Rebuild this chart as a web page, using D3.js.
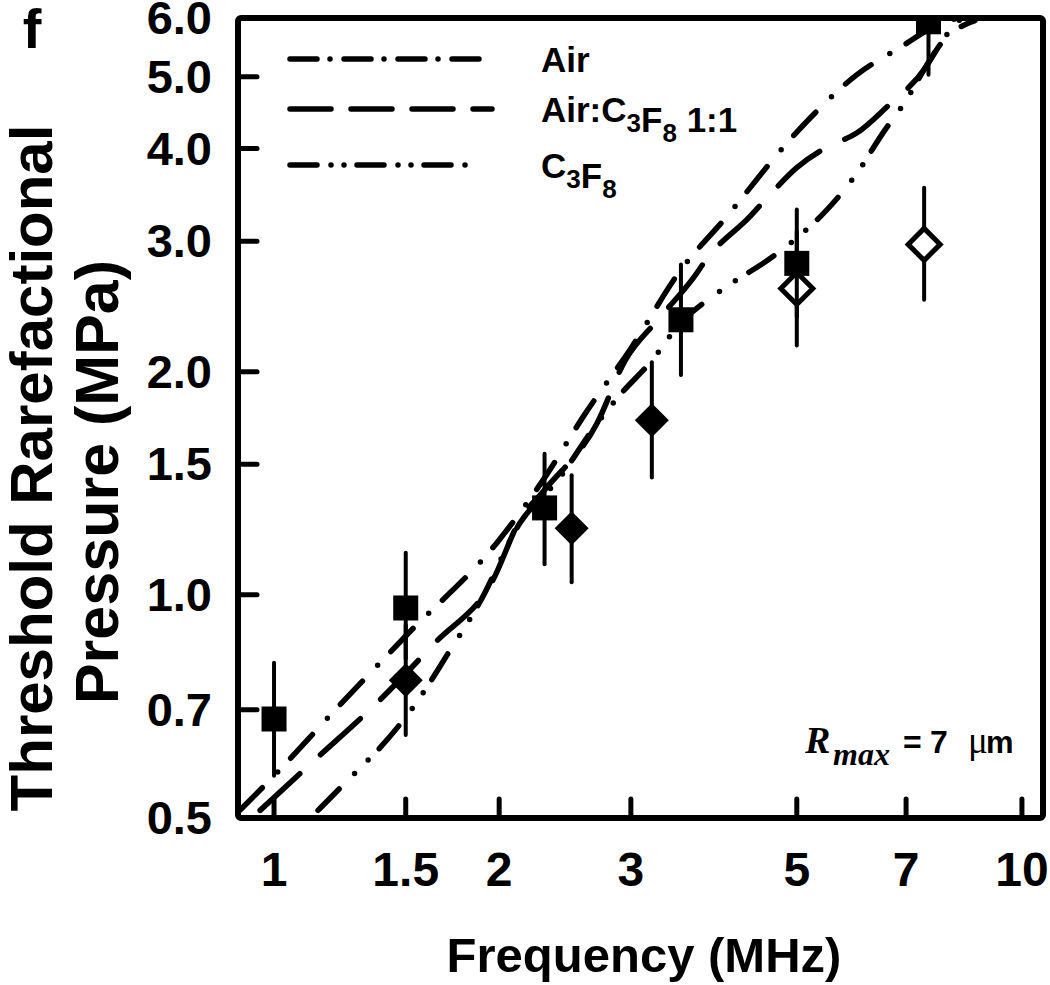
<!DOCTYPE html>
<html>
<head>
<meta charset="utf-8">
<script src="https://cdn.jsdelivr.net/npm/d3@7"></script>
<style>
  body { margin: 0; background: #fff; }
  text { font-family: "Liberation Sans", Arial, sans-serif; font-weight: bold; fill: #000; }
</style>
</head>
<body>
<div id="chart"></div>
<script>
(function(){
    const width = 1050;
    const height = 985;

    // Tick values
    const freqTicks = [1, 1.5, 2, 3, 5, 7, 10];
    const pressTicks = [0.5, 0.7, 1.0, 1.5, 2.0, 3.0, 4.0, 5.0, 6.0];

    // Model curves
    const airFreq = [0.9, 1.0, 1.2, 1.5, 2.0, 2.3, 2.6, 3.0, 3.5, 4.0, 5.0, 6.0, 7.0, 7.5, 8.2];
    const airP    = [0.512, 0.57, 0.695, 0.88, 1.186, 1.438, 1.749, 2.15, 2.745, 3.21, 4.21, 5.02, 5.54, 5.79, 6.0];

    const mixFreq = [0.958, 1.134, 1.373, 1.642, 1.963, 2.132, 2.3, 2.7, 2.947, 3.26, 3.63, 3.8, 4.33, 4.56, 5.0, 5.49, 6.02, 6.58, 7.43, 7.77, 8.65];
    const mixP    = [0.512, 0.599, 0.715, 0.862, 1.048, 1.262, 1.385, 1.70, 2.07, 2.35, 2.67, 2.85, 3.24, 3.43, 3.77, 4.02, 4.20, 4.54, 5.14, 5.52, 5.95];

    const c3f8Freq = [1.145, 1.283, 1.386, 1.582, 1.704, 1.885, 2.132, 2.398, 2.7, 2.9, 3.2, 3.5, 3.74, 4.11, 4.6, 5.0, 5.49, 6.0, 6.5, 7.0, 7.5, 8.0, 8.3];
    const c3f8P    = [0.512, 0.575, 0.622, 0.737, 0.83, 0.978, 1.25, 1.43, 1.70, 1.86, 2.07, 2.33, 2.47, 2.64, 2.84, 3.03, 3.31, 3.69, 4.18, 4.65, 5.23, 5.76, 6.0];

    // Measured points with error bars
    const squareFreq = [1.0, 1.5, 2.3, 3.5, 5.0, 7.5];
    const squareP    = [0.68, 0.96, 1.31, 2.35, 2.80, 5.93];
    const squareLo   = [0.57, 0.82, 1.10, 1.98, 2.37, 5.03];
    const squareHi   = [0.81, 1.14, 1.55, 2.79, 3.31, 7.0];

    const diamondFreq = [1.5, 2.5, 3.2];
    const diamondP    = [0.767, 1.23, 1.72];
    const diamondLo   = [0.647, 1.04, 1.44];
    const diamondHi   = [0.91, 1.45, 2.06];

    const openFreq = [5.0, 7.4];
    const openP    = [2.59, 2.97];
    const openLo   = [2.17, 2.50];
    const openHi   = [3.09, 3.54];

    const legendLabels = ["Air", "Air:C3F8 1:1", "C3F8"];

    const left = 238, right = 1043, top = 18, bottom = 818;

    const svg = d3.select("#chart")
        .append("svg")
        .attr("width", width)
        .attr("height", height);

    const x = d3.scaleLog().domain([0.895, 10.67]).range([left, right]);
    const y = d3.scaleLog().domain([0.5, 6]).range([bottom, top]);

    svg.append("clipPath").attr("id", "plotclip")
        .append("rect")
        .attr("x", left).attr("y", top)
        .attr("width", right - left).attr("height", bottom - top);

    const plot = svg.append("g").attr("clip-path", "url(#plotclip)");

    // Curves
    const line = d3.line()
        .x(d => x(d[0]))
        .y(d => y(d[1]))
        .curve(d3.curveMonotoneX);

    const curves = [
        { f: airFreq, p: airP, dash: "32,22,0,19" },
        { f: mixFreq, p: mixP, dash: "54,28" },
        { f: c3f8Freq, p: c3f8P, dash: "30,22,0,19,0,16" }
    ];

    curves.forEach(c => {
        plot.append("path")
            .datum(c.f.map((f, i) => [f, c.p[i]]))
            .attr("d", line)
            .attr("fill", "none")
            .attr("stroke", "#000")
            .attr("stroke-width", 5.5)
            .attr("stroke-linecap", "round")
            .attr("stroke-dasharray", c.dash);
    });

    function errorBars(fs, lo, hi) {
        plot.selectAll(null)
            .data(fs)
            .enter()
            .append("line")
            .attr("x1", d => x(d)).attr("x2", d => x(d))
            .attr("y1", (d, i) => y(lo[i]))
            .attr("y2", (d, i) => y(hi[i]))
            .attr("stroke", "#000")
            .attr("stroke-width", 4)
            .attr("stroke-linecap", "round");
    }

    const diamondPath = r => `M0,${-r}L${r},0L0,${r}L${-r},0Z`;

    // open diamonds
    errorBars(openFreq, openLo, openHi);
    plot.selectAll(null)
        .data(openFreq)
        .enter()
        .append("path")
        .attr("d", diamondPath(16))
        .attr("transform", (d, i) => `translate(${x(d)},${y(openP[i])})`)
        .attr("fill", "#fff")
        .attr("stroke", "#000")
        .attr("stroke-width", 5);

    // filled diamonds
    errorBars(diamondFreq, diamondLo, diamondHi);
    plot.selectAll(null)
        .data(diamondFreq)
        .enter()
        .append("path")
        .attr("d", diamondPath(17))
        .attr("transform", (d, i) => `translate(${x(d)},${y(diamondP[i])})`)
        .attr("fill", "#000");

    // squares
    errorBars(squareFreq, squareLo, squareHi);
    plot.selectAll(null)
        .data(squareFreq)
        .enter()
        .append("rect")
        .attr("x", d => x(d) - 12.5)
        .attr("y", (d, i) => y(squareP[i]) - 12.5)
        .attr("width", 25).attr("height", 25)
        .attr("fill", "#000");

    // Frame
    svg.append("rect")
        .attr("x", left).attr("y", top)
        .attr("width", right - left).attr("height", bottom - top)
        .attr("rx", 3)
        .attr("fill", "none")
        .attr("stroke", "#000")
        .attr("stroke-width", 6);

    // Inner ticks
    svg.selectAll(null)
        .data(freqTicks)
        .enter()
        .append("line")
        .attr("x1", d => x(d)).attr("x2", d => x(d))
        .attr("y1", bottom).attr("y2", bottom - 19)
        .attr("stroke", "#000").attr("stroke-width", 5)
        .attr("stroke-linecap", "round");

    svg.selectAll(null)
        .data(pressTicks.slice(1, -1))
        .enter()
        .append("line")
        .attr("x1", left).attr("x2", left + 19)
        .attr("y1", d => y(d)).attr("y2", d => y(d))
        .attr("stroke", "#000").attr("stroke-width", 5)
        .attr("stroke-linecap", "round");

    // Tick labels
    svg.selectAll(null)
        .data(freqTicks)
        .enter()
        .append("text")
        .attr("x", d => x(d))
        .attr("y", 886)
        .attr("text-anchor", "middle")
        .style("font-size", "48px")
        .text(d => d);

    svg.selectAll(null)
        .data(pressTicks)
        .enter()
        .append("text")
        .attr("x", 212)
        .attr("y", d => y(d) + 16)
        .attr("text-anchor", "end")
        .style("font-size", "47px")
        .text(d => d.toFixed(1));

    // Axis titles
    svg.append("text")
        .attr("x", 644).attr("y", 972)
        .attr("text-anchor", "middle")
        .style("font-size", "49px")
        .text("Frequency (MHz)");

    svg.append("text")
        .attr("transform", "translate(52,468) rotate(-90)")
        .attr("text-anchor", "middle")
        .style("font-size", "60px")
        .text("Threshold Rarefactional");

    svg.append("text")
        .attr("transform", "translate(118,482) rotate(-90)")
        .attr("text-anchor", "middle")
        .style("font-size", "61px")
        .text("Pressure (MPa)");

    // Panel letter
    svg.append("text")
        .attr("x", 32).attr("y", 48)
        .attr("text-anchor", "middle")
        .style("font-size", "56px")
        .text("f");

    // Legend
    const legendDash = ["27,13,0,14", "41,20", "27,14,0,13,0,13"];
    const legendEnd = [479, 492, 478];
    const legendY = [59, 109, 165];
    legendLabels.forEach((lab, i) => {
        svg.append("line")
            .attr("x1", 290).attr("x2", legendEnd[i])
            .attr("y1", legendY[i]).attr("y2", legendY[i])
            .attr("stroke", "#000")
            .attr("stroke-width", 5.5)
            .attr("stroke-linecap", "round")
            .attr("stroke-dasharray", legendDash[i]);

        const t = svg.append("text")
            .attr("x", 541)
            .attr("y", legendY[i] + 13)
            .style("font-size", "35px");
        // render chemical subscripts
        lab.split(/(\d)/).forEach((part, j, arr) => {
            if (part === "") return;
            const isSub = /^\d$/.test(part) && j > 0 && /[CF]$/.test(arr[j - 1]);
            const ts = t.append("tspan").text(part);
            if (isSub) {
                ts.style("font-size", "26px").attr("dy", 10);
            } else if (j > 1 && /^\d$/.test(arr[j - 2]) && /[CF]$/.test(arr[j - 3] || "")) {
                ts.attr("dy", -10);
            }
        });
    });

    // R_max annotation
    const serif = "'Liberation Serif', 'Times New Roman', serif";
    const rt = svg.append("text")
        .attr("x", 805).attr("y", 753)
        .style("font-size", "32px");
    rt.append("tspan")
        .style("font-family", serif)
        .style("font-style", "italic")
        .style("font-size", "38px")
        .text("R");
    rt.append("tspan")
        .attr("x", 833)
        .style("font-family", serif)
        .style("font-style", "italic")
        .style("font-size", "32px")
        .attr("dy", 12)
        .text("max");
    rt.append("tspan").attr("x", 903).attr("dy", -12).text("=");
    rt.append("tspan").attr("x", 930).text("7");
    rt.append("tspan")
        .attr("x", 968)
        .style("font-family", serif)
        .style("font-weight", "normal")
        .style("font-size", "37px")
        .text("\u03bc");
    rt.append("tspan").attr("x", 986).style("font-size", "31px").text("m");
})();
</script>
</body>
</html>
